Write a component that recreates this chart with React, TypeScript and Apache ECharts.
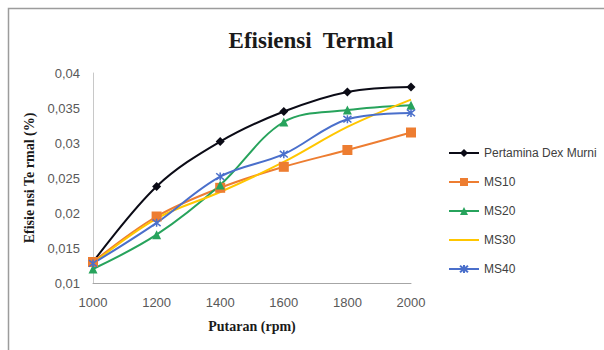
import React, { useEffect, useRef } from "react";
import * as echarts from "echarts";

// Engine speed (rpm) on the horizontal axis
const rpm = [1000, 1200, 1400, 1600, 1800, 2000];

// Thermal efficiency per fuel blend
const pertaminaDex = [0.013, 0.0238, 0.0302, 0.0345, 0.0373, 0.038];
const ms10 = [0.013, 0.0195, 0.0236, 0.0266, 0.029, 0.0315];
const ms20 = [0.012, 0.0169, 0.024, 0.033, 0.0347, 0.0354];
const ms30 = [0.0128, 0.0192, 0.023, 0.0273, 0.0323, 0.0362];
const ms40 = [0.0128, 0.0186, 0.0252, 0.0284, 0.0334, 0.0343];

const seriesNames = ["Pertamina Dex Murni", "MS10", "MS20", "MS30", "MS40"];

const SANS = '"Liberation Sans", Arial, sans-serif';
const SERIF = '"Liberation Serif", "Times New Roman", serif';

// Excel-style "*" marker: an X crossed by a vertical stroke
const STAR = "path://M0,0L10,10M10,0L0,10M5,-1L5,11";

const pairs = (ys: number[]) => rpm.map((x, i) => [x, ys[i]]);

const fmtComma = (v: number) => {
  const s = parseFloat(v.toFixed(4)).toString();
  return s.replace(".", ",");
};

export default function App() {
  const ref = useRef<HTMLDivElement>(null);

  useEffect(() => {
    if (!ref.current) return;
    const chart = echarts.init(ref.current, undefined, { renderer: "svg" });

    const line = (
      name: string,
      ys: number[],
      color: string,
      symbol: string,
      symbolSize: number,
      extra: any = {}
    ) => ({
      name,
      type: "line",
      data: pairs(ys),
      smooth: 0.35,
      symbol,
      symbolSize,
      showSymbol: symbol !== "none",
      lineStyle: { color, width: 2 },
      itemStyle: { color, ...(extra.itemStyle || {}) },
      emphasis: { disabled: true },
    });

    chart.setOption({
      animation: false,
      backgroundColor: "#ffffff",
      graphic: [
        {
          type: "rect",
          shape: { x: 8.5, y: 8.5, width: 700, height: 400 },
          style: { fill: "none", stroke: "#9c9c9c", lineWidth: 1.5 },
          silent: true,
        },
        {
          type: "text",
          x: 311,
          y: 40,
          style: {
            text: "Efisiensi  Termal",
            font: `bold 23px ${SERIF}`,
            fill: "#1a1a1a",
            textAlign: "center",
            textVerticalAlign: "middle",
          },
        },
      ],
      legend: {
        orient: "vertical",
        left: 443,
        top: 141,
        itemWidth: 30,
        itemHeight: 10,
        itemGap: 15,
        data: [
          seriesNames[0],
          seriesNames[1],
          seriesNames[2],
          { name: seriesNames[3], itemStyle: { opacity: 0 } },
          seriesNames[4],
        ],
        textStyle: {
          fontFamily: SANS,
          fontSize: 12,
          lineHeight: 14,
          color: "#404040",
        },
      },
      grid: { left: 93, top: 73, width: 318, height: 210 },
      xAxis: {
        type: "value",
        min: 1000,
        max: 2000,
        interval: 200,
        name: "Putaran (rpm)",
        nameLocation: "middle",
        nameGap: 36,
        nameTextStyle: {
          fontFamily: SERIF,
          fontWeight: "bold",
          fontSize: 14,
          color: "#1a1a1a",
        },
        axisLine: { show: true, lineStyle: { color: "#a6a6a6", width: 1 } },
        axisTick: { show: false },
        splitLine: { show: false },
        axisLabel: {
          margin: 13,
          fontFamily: SANS,
          fontSize: 13,
          color: "#595959",
          formatter: (v: number) => String(v),
        },
      },
      yAxis: {
        type: "value",
        min: 0.01,
        max: 0.04,
        interval: 0.005,
        name: "Efisie nsi Te rmal (%)",
        nameLocation: "middle",
        nameRotate: 90,
        nameGap: 50,
        nameTextStyle: {
          fontFamily: SERIF,
          fontWeight: "bold",
          fontSize: 14,
          color: "#1a1a1a",
        },
        axisLine: { show: true, lineStyle: { color: "#c8c8c8", width: 1 } },
        axisTick: { show: false },
        splitLine: { show: false },
        axisLabel: {
          margin: 13,
          fontFamily: SANS,
          fontSize: 13,
          color: "#595959",
          formatter: fmtComma,
        },
      },
      series: [
        line(seriesNames[0], pertaminaDex, "#0b0b16", "diamond", 9),
        line(seriesNames[1], ms10, "#ED7D31", "rect", 10),
        line(seriesNames[2], ms20, "#27A35C", "triangle", 9),
        line(seriesNames[3], ms30, "#FFC600", "none", 0),
        line(seriesNames[4], ms40, "#4A6FCB", STAR, 8, {
          itemStyle: { borderColor: "#4A6FCB", borderWidth: 1.5 },
        }),
      ],
    });

    return () => chart.dispose();
  }, []);

  return (
    <div
      ref={ref}
      style={{ position: "fixed", left: 0, top: 0, width: 604, height: 350 }}
    />
  );
}
